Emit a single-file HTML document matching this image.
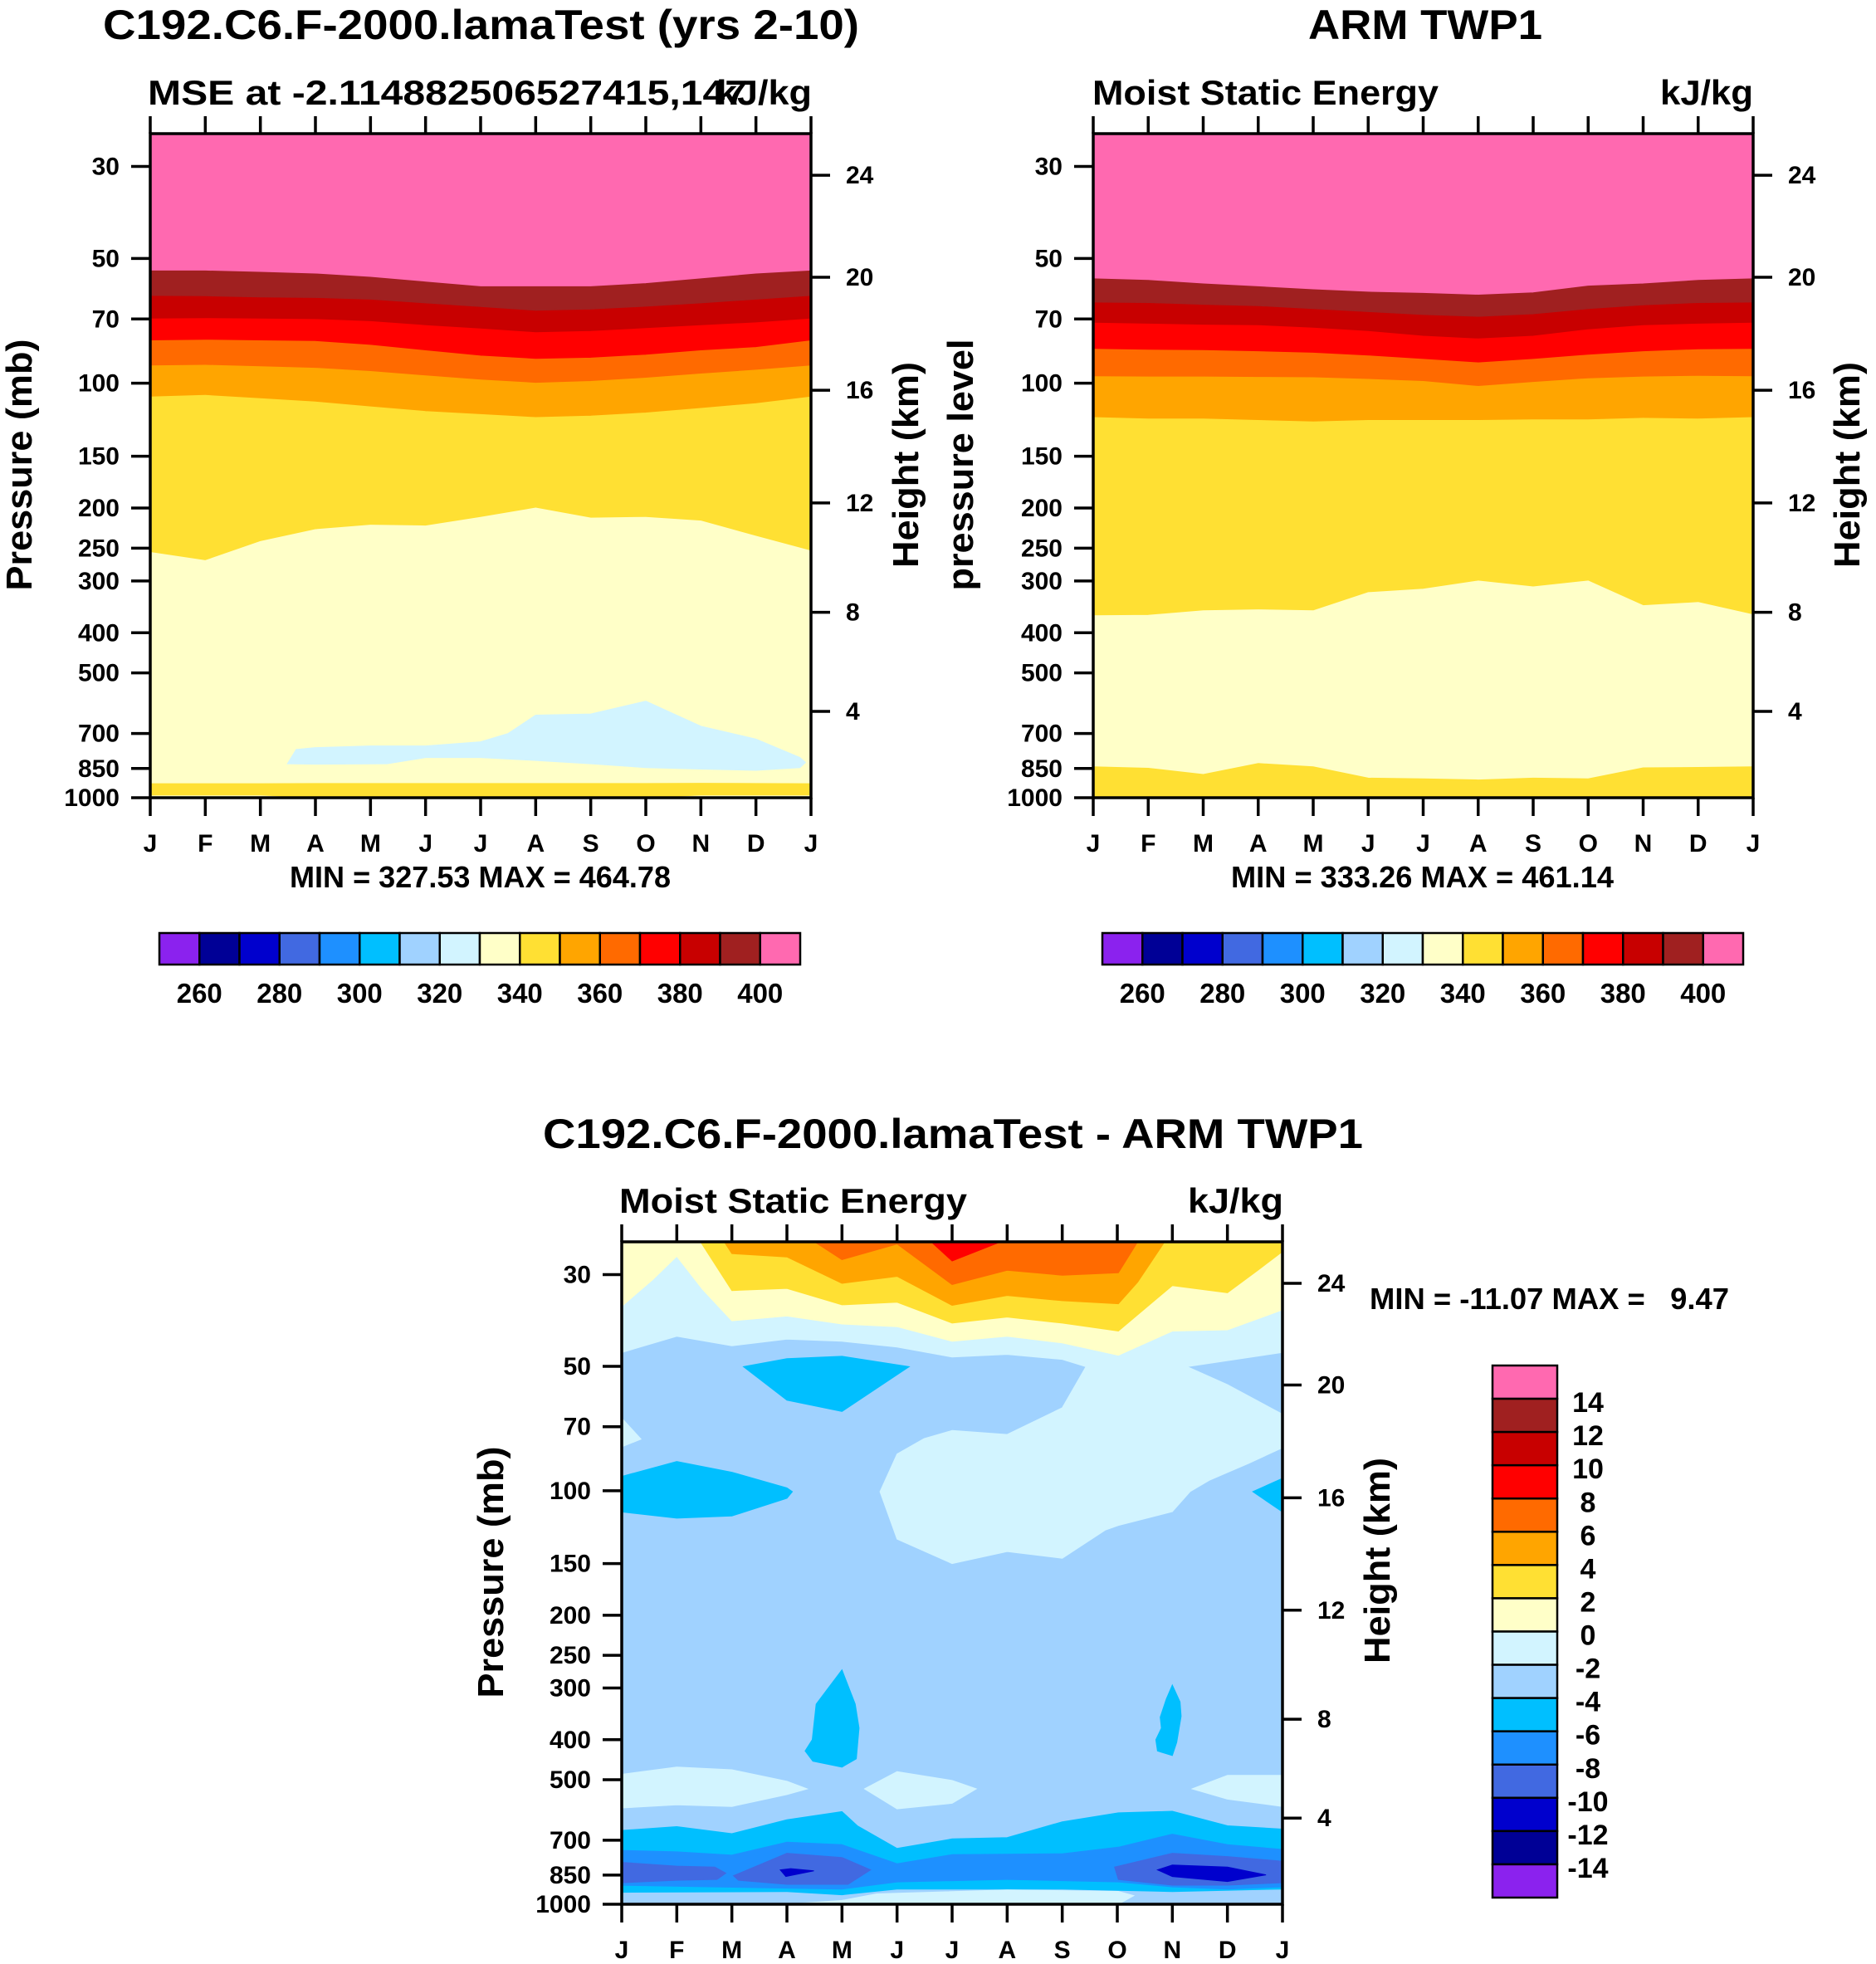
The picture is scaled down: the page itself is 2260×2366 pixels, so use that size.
<!DOCTYPE html>
<html><head><meta charset="utf-8"><style>
html,body{margin:0;padding:0;background:#fff;}
svg{display:block;font-family:"Liberation Sans",Arial,sans-serif;font-weight:bold;}
</style></head>
<body>
<svg id="fig" width="2260" height="2366" viewBox="0 0 2260 2366" xmlns="http://www.w3.org/2000/svg">
<rect x="0" y="0" width="2260" height="2366" fill="#fff"/>
</svg>
<script>
// ---------- shared axis data ----------
const monthLabels = ['J','F','M','A','M','J','J','A','S','O','N','D','J'];
const monthIdx = [0,1,2,3,4,5,6,7,8,9,10,11,12];
const pressureTicks = [30,50,70,100,150,200,250,300,400,500,700,850,1000];
const heightTickLabels = [4,8,12,16,20,24];
const heightTickPressures = [619,357,194.5,104,55.5,31.5];
const cbarLabelsTop = [260,280,300,320,340,360,380,400];
const cbarLabelsDiff = [14,12,10,8,6,4,2,0,-2,-4,-6,-8,-10,-12,-14];
const palette = ['#8b22ee','#000096','#0000cd','#4169e1','#1e90ff','#00bfff','#a0d2ff','#d2f4ff','#ffffc8','#ffe033','#ffa500','#ff6a00','#ff0000','#c80000','#a02020','#ff69b0'];

// ---------- model (top-left) boundaries: pressure (mb) per month ----------
const tlB400 = [53.6,53.6,54,54.5,55.5,57,58.5,58.5,58.5,57.5,56,54.5,53.6];
const tlB390 = [61.7,61.8,62.2,62.4,63,64.3,65.6,67,66.5,65.5,64.3,63,61.7];
const tlB380 = [70,69.8,70,70.2,71,72.6,74,75.5,75,73.8,72.6,71.5,70];
const tlB370 = [79,78.7,79,79.3,81,83.5,86,87.5,87,85.5,83.5,82,79];
const tlB360 = [90.8,90.5,91.2,92,93.7,96,98.2,100,99,97.2,95,93,90.8];
const tlB350 = [108,107,109,111,114,117,119,121,120,118,115,112,108];
const tlB340 = [256,268,241,225.5,220,221,210.6,200,211.5,210.6,215,234,254];
const tlBlobMonth = [2.49,2.65,3,4,5,6,6.5,7,8,9,10,11,11.8,11.9,11.8,11,10,9,8,7,6,5,4.3,3];
const tlBlobPres  = [828,765,757,750,750,733,700,632,628,585,672,722,800,822,846,859,853,846,828,813,800,800,828,830];
const tlSurfTop = [925,925,925,924,924,924,924,924,924,924,923,924,925];
const tlSurfBot = [985,985,985,1000,1000,1000,1000,1000,1000,1000,985,985,985];

// ---------- ARM (top-right) boundaries ----------
const trB400 = [56,56.5,57.6,58.5,59.5,60.3,60.7,61.3,60.5,58.3,57.6,56.5,56];
const trB390 = [64,64.2,64.8,65.3,66.4,67.5,68.6,69.3,68.3,66.4,65,64.2,64];
const trB380 = [71.6,72,72.4,72.6,73.6,75,77,78.2,77,74.3,72.6,72,71.6];
const trB370 = [82.8,83.2,83.4,83.9,84.6,85.9,87.6,89.3,87.6,85.5,83.9,83,82.8];
const trB360 = [96.4,96.6,96.6,96.8,97,97.9,99,101.8,99.5,97.5,96.6,96.2,96.4];
const trB350 = [121,122,122,123,124,123,123,123,122.6,122.6,121.5,122,121];
const trB340 = [364,363,354,352,354,320,314,300,310,300,344,338,362];
const trB330 = [842,849,879,827,842,897,900,906,897,900,847,845,842];

// ---------- difference (bottom) contour shapes: month / pressure ----------
const dUpperMonth = [0,12,12,10.27,11,12,12,11.38,10.68,10.32,10,9.02,8.78,8,7,6,5,4.69,5,5.49,6,7,8,8.43,8,7,6,5,4,3,2,1,0];
const dUpperPres  = [25,25,46.3,50.1,55.4,65.3,78.7,85.9,94.2,100.5,112.3,121.3,124.5,145.6,140.3,150,130.9,100.5,81.5,74.8,71.5,73.1,63,50.1,48.1,46.8,47.5,44.9,43.5,43,44.6,42.3,46.3];
const dSmallMonth = [0,0.35,0];
const dSmallPres  = [66.7,75,78.3];
const dB0Month = [0,0.56,1,1.47,2,3,4,5,6,7,8,9.02,10,11,12];
const dB0Pres  = [35.8,30.9,27.1,32.6,38.8,37.8,39.5,40.1,43.5,42.3,43.9,47,41.1,40.8,36.5];
const dB2Month = [0,1.43,2,3,4,5,6,7,8,9.02,10,11,11.55,12];
const dB2Pres  = [25,25,32.8,32.4,35.5,35,39.3,38,39.3,41.1,31.9,33.2,29.3,26.4];
const dB4Month = [0,1.86,2,3,4,5,6,7,8,9.02,9.37,9.86,12];
const dB4Pres  = [25,25,26.7,27.2,31.5,30.3,35.6,33.7,34.7,35.3,31.3,25,25];
const dB6Month = [0,3.5,4,5,6,7,8,9.02,9.37,12];
const dB6Pres  = [25,25,27.6,25.3,31.7,29.3,30.1,29.7,25,25];
const dB8Month = [0,5.62,6,6.88,12];
const dB8Pres  = [25,25,27.8,25,25];
const dC1Month = [2.21,3,4,5.22,4,3];
const dC1Pres  = [50.1,47.9,47.3,50.1,64.3,60.4];
const dC2Month = [0,1,2,3,3.1,3,2,1,0];
const dC2Pres  = [92.3,85,90.2,98.4,100.5,104.3,115.1,116.5,112.5];
const dC3Month = [11.46,12,12];
const dC3Pres  = [100.5,93.3,112.5];
const dC4Month = [4,4.24,4.31,4.26,4,3.47,3.33,3.46,3.53];
const dC4Pres  = [271,328,375,445,466,451,426,400,328];
const dC5Month = [10,10.14,10.16,10.08,10,9.73,9.7,9.8,9.78,9.89];
const dC5Pres  = [295,324,351,406,437,426,400,375,353,319];
const dL1Month = [0,1,2,3,3.37,3,2,1,0];
const dL1Pres  = [485,466,473,504,526,543,580,575,585];
const dL2Month = [4.41,5,6,6.44,6,5];
const dL2Pres  = [526,478,502,526,570,588];
const dL3Month = [10.36,11,12,12,11];
const dL3Pres  = [526,488,488,580,557];
const dCyanMonth = [0,1,2,3,4,4.28,5,6,7,8,9.02,10,11,12];
const dCyanPres  = [663,649,675,625,597,646,733,695,690,632,601,596,646,658];
const dDodgerMonth = [0,1,2,3,4,5,6,7,8,9.02,10,11,12];
const dDodgerPres  = [741,747,761,708,718,798,759,757,755,728,677,718,737];
const dR1Month = [0,1,1.69,1.89,1.73,1,0];
const dR1Pres  = [792,809,813,841,871,875,887];
const dR2Month = [2.03,3,4,4.52,4.11,3,2.12];
const dR2Pres  = [853,753,771,826,895,895,875];
const dR3Month = [8.95,10,11,12,12,11,10,9.02];
const dR3Pres  = [813,753,767,787,887,899,899,871];
const dN1Month = [2.88,3.07,3.49,2.98];
const dN1Pres  = [826,820,830,857];
const dN2Month = [9.73,10,11,11.7,11,10];
const dN2Pres  = [826,804,813,849,881,857];
const dLowCyanMonth = [0,4,5,7,9.02,10,11,12];
const dLowCyanPres  = [904,923,887,875,887,912,923,912];
const dLowBlueMonth = [0,3,4,5,8,10,12];
const dLowBluePres  = [940,936,953,923,923,936,923];
const dSfcMonth = [3,4,4.63,7,9.02,9.3,9.02];
const dSfcPres  = [1000,979,944,923,931,953,1000];

// ---------- helpers ----------
const NS = 'http://www.w3.org/2000/svg';
const fig = document.getElementById('fig');
function mk(tag, attrs, parent){ const e=document.createElementNS(NS,tag); for(const k in attrs) e.setAttribute(k,attrs[k]); (parent||fig).appendChild(e); return e; }
function txt(s, x, y, size, anchor, parent, extra){ const t=mk('text',Object.assign({x:x,y:y,'font-size':size,'text-anchor':anchor||'start',fill:'#000'},extra||{}),parent); t.textContent=s; return t; }
const PTOP=25, PBOT=1000;
function axes(ox, oy, w, h){
  return { x: m => ox + m/12*w, y: p => oy + h*Math.log10(p/PTOP)/Math.log10(PBOT/PTOP), ox, oy, w, h };
}
function pts(ax, ms, ps){ return ms.map((m,i)=>ax.x(m).toFixed(1)+','+ax.y(ps[i]).toFixed(1)).join(' '); }
function poly(g, ax, ms, ps, color){ return mk('polygon',{points:pts(ax,ms,ps),fill:color,stroke:color,'stroke-width':1},g); }
function fillBelow(g, ax, ms, ps, color){ return poly(g, ax, ms.concat([ms[ms.length-1], ms[0]]), ps.concat([PBOT,PBOT]), color); }
function fillAbove(g, ax, ms, ps, color){ return poly(g, ax, ms.concat([ms[ms.length-1], ms[0]]), ps.concat([PTOP,PTOP]), color); }

function frame(ax, id){
  const g = mk('g',{});
  
  
  mk('rect',{x:ax.ox,y:ax.oy,width:ax.w,height:ax.h,fill:'none',stroke:'#000','stroke-width':3.5},g);
  monthIdx.forEach((m,i)=>{
    const x=ax.x(m);
    mk('line',{x1:x,y1:ax.oy,x2:x,y2:ax.oy-21,stroke:'#000','stroke-width':3.5},g);
    mk('line',{x1:x,y1:ax.oy+ax.h,x2:x,y2:ax.oy+ax.h+22,stroke:'#000','stroke-width':3.5},g);
    const t=txt(monthLabels[i], x, ax.oy+ax.h+65, 30, 'middle', g);
    
    
  });
  pressureTicks.forEach(p=>{
    const y=ax.y(p);
    mk('line',{x1:ax.ox,y1:y,x2:ax.ox-23,y2:y,stroke:'#000','stroke-width':3.5},g);
    const t=txt(String(p), ax.ox-37, y+10, 30, 'end', g);
    
    
  });
  heightTickPressures.forEach((p,i)=>{
    const y=ax.y(p), x=ax.ox+ax.w;
    mk('line',{x1:x,y1:y,x2:x+23,y2:y,stroke:'#000','stroke-width':3.5},g);
    const t=txt(String(heightTickLabels[i]), x+42, y+10, 30, 'start', g);
    
    
  });
  return g;
}
function clipGroup(ax, id){
  const cp = mk('clipPath',{id:id+'-clip'});
  mk('rect',{x:ax.ox,y:ax.oy,width:ax.w,height:ax.h},cp);
  const g = mk('g',{'clip-path':'url(#'+id+'-clip)'});
  
  
  return g;
}
function rotLabel(s, cx, cy, size, len, name){
  const t=txt(s, 0, 0, size, 'middle', fig, {transform:'translate('+cx+','+cy+') rotate(-90)', textLength:len, lengthAdjust:'spacingAndGlyphs'});
  
  
  return t;
}
function hColorbar(x0, y0, w, h, name){
  const g=mk('g',{});
  
  
  const bw=w/16;
  palette.forEach((c,i)=>{ mk('rect',{x:x0+i*bw,y:y0,width:bw,height:h,fill:c,stroke:'#000','stroke-width':2.5},g); });
  cbarLabelsTop.forEach((v,i)=>{ txt(String(v), x0+(1+2*i)*bw, y0+84, 33, 'middle', g); });
}

// ---------- Top-left (model) ----------
const axTL = axes(181, 161, 796, 800);
{
  const g = clipGroup(axTL, 'model-panel');
  mk('rect',{x:axTL.ox,y:axTL.oy,width:axTL.w,height:axTL.h,fill:palette[15]},g);
  const bs=[tlB400,tlB390,tlB380,tlB370,tlB360,tlB350,tlB340];
  bs.forEach((b,i)=>fillBelow(g, axTL, monthIdx, b, palette[14-i]));
  poly(g, axTL, tlBlobMonth, tlBlobPres, palette[7]);
  poly(g, axTL, monthIdx.concat(monthIdx.slice().reverse()), tlSurfTop.concat(tlSurfBot.slice().reverse()), palette[9]);
  frame(axTL,'model-panel');
}
txt('C192.C6.F-2000.lamaTest (yrs 2-10)', 124, 47, 50, 'start', fig, {textLength:911, lengthAdjust:'spacingAndGlyphs'});
txt('MSE at -2.114882506527415,147', 178, 126, 42, 'start', fig, {textLength:722, lengthAdjust:'spacingAndGlyphs'});
txt('kJ/kg', 978, 126, 42, 'end', fig, {textLength:115, lengthAdjust:'spacingAndGlyphs'});
rotLabel('Pressure (mb)', 38, 560, 44, 303, 'model-y-axis-title');
rotLabel('Height (km)', 1106, 560, 44, 248, 'model-height-axis-title');
txt('MIN = 327.53 MAX = 464.78', 349, 1069, 36, 'start', fig, {textLength:459, lengthAdjust:'spacingAndGlyphs'});
hColorbar(192, 1124, 772, 38, 'model-colorbar');

// ---------- Top-right (ARM) ----------
const axTR = axes(1317, 161, 795, 800);
{
  const g = clipGroup(axTR, 'arm-panel');
  mk('rect',{x:axTR.ox,y:axTR.oy,width:axTR.w,height:axTR.h,fill:palette[15]},g);
  const bs=[trB400,trB390,trB380,trB370,trB360,trB350,trB340];
  bs.forEach((b,i)=>fillBelow(g, axTR, monthIdx, b, palette[14-i]));
  fillBelow(g, axTR, monthIdx, trB330, palette[9]);
  frame(axTR,'arm-panel');
}
txt('ARM TWP1', 1576, 47, 50, 'start', fig, {textLength:282, lengthAdjust:'spacingAndGlyphs'});
txt('Moist Static Energy', 1316, 126, 42, 'start', fig, {textLength:417, lengthAdjust:'spacingAndGlyphs'});
txt('kJ/kg', 2112, 126, 42, 'end', fig, {textLength:112, lengthAdjust:'spacingAndGlyphs'});
rotLabel('pressure level', 1172, 560, 44, 303, 'arm-y-axis-title');
rotLabel('Height (km)', 2240, 560, 44, 248, 'arm-height-axis-title');
txt('MIN = 333.26 MAX = 461.14', 1483, 1069, 36, 'start', fig, {textLength:461, lengthAdjust:'spacingAndGlyphs'});
hColorbar(1328, 1124, 772, 38, 'arm-colorbar');

// ---------- Bottom (difference) ----------
const axD = axes(749, 1496, 796, 798);
{
  const g = clipGroup(axD, 'diff-panel');
  mk('rect',{x:axD.ox,y:axD.oy,width:axD.w,height:axD.h,fill:palette[6]},g);
  poly(g, axD, dUpperMonth, dUpperPres, palette[7]);
  poly(g, axD, dSmallMonth, dSmallPres, palette[7]);
  fillAbove(g, axD, dB0Month, dB0Pres, palette[8]);
  fillAbove(g, axD, dB2Month, dB2Pres, palette[9]);
  fillAbove(g, axD, dB4Month, dB4Pres, palette[10]);
  fillAbove(g, axD, dB6Month, dB6Pres, palette[11]);
  fillAbove(g, axD, dB8Month, dB8Pres, palette[12]);
  poly(g, axD, dC1Month, dC1Pres, palette[5]);
  poly(g, axD, dC2Month, dC2Pres, palette[5]);
  poly(g, axD, dC3Month, dC3Pres, palette[5]);
  poly(g, axD, dC4Month, dC4Pres, palette[5]);
  poly(g, axD, dC5Month, dC5Pres, palette[5]);
  poly(g, axD, dL1Month, dL1Pres, palette[7]);
  poly(g, axD, dL2Month, dL2Pres, palette[7]);
  poly(g, axD, dL3Month, dL3Pres, palette[7]);
  fillBelow(g, axD, dCyanMonth, dCyanPres, palette[5]);
  fillBelow(g, axD, dDodgerMonth, dDodgerPres, palette[4]);
  poly(g, axD, dR1Month, dR1Pres, palette[3]);
  poly(g, axD, dR2Month, dR2Pres, palette[3]);
  poly(g, axD, dR3Month, dR3Pres, palette[3]);
  poly(g, axD, dN1Month, dN1Pres, palette[2]);
  poly(g, axD, dN2Month, dN2Pres, palette[2]);
  fillBelow(g, axD, dLowCyanMonth, dLowCyanPres, palette[5]);
  fillBelow(g, axD, dLowBlueMonth, dLowBluePres, palette[6]);
  poly(g, axD, dSfcMonth, dSfcPres, palette[7]);
  frame(axD,'diff-panel');
}
txt('C192.C6.F-2000.lamaTest - ARM TWP1', 654, 1383, 50, 'start', fig, {textLength:988, lengthAdjust:'spacingAndGlyphs'});
txt('Moist Static Energy', 746, 1461, 42, 'start', fig, {textLength:419, lengthAdjust:'spacingAndGlyphs'});
txt('kJ/kg', 1546, 1461, 42, 'end', fig, {textLength:115, lengthAdjust:'spacingAndGlyphs'});
rotLabel('Pressure (mb)', 606, 1894, 44, 303, 'diff-y-axis-title');
rotLabel('Height (km)', 1674, 1880, 44, 248, 'diff-height-axis-title');
txt('MIN = -11.07 MAX =   9.47', 1650, 1577, 36, 'start', fig, {textLength:433, lengthAdjust:'spacingAndGlyphs', style:'white-space:pre'});
{
  const g=mk('g',{});
  
  
  const x0=1798, y0=1645, w=78, bh=(2286-1645)/16;
  palette.slice().reverse().forEach((c,i)=>{ mk('rect',{x:x0,y:y0+i*bh,width:w,height:bh,fill:c,stroke:'#000','stroke-width':2.5},g); });
  cbarLabelsDiff.forEach((v,i)=>{ txt(String(v), 1913, y0+(i+1)*bh+16, 34, 'middle', g); });
}
</script>
</body></html>
